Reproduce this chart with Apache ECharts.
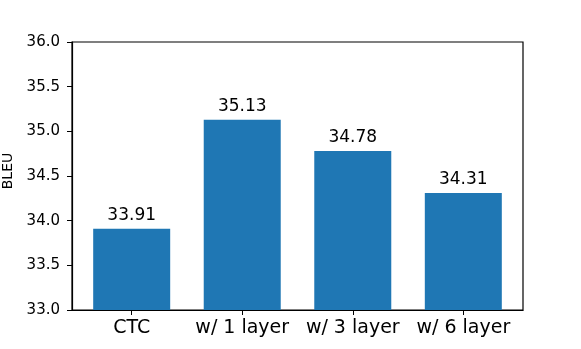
<!DOCTYPE html>
<html>
<head>
<meta charset="utf-8">
<script src="https://cdn.jsdelivr.net/npm/echarts@6/dist/echarts.min.js"></script>
<style>
  html, body { margin: 0; padding: 0; background: #fff; }
  #chart { width: 581px; height: 349px; }
</style>
</head>
<body>
<div id="chart"></div>
<script>
// data
const categories = ["CTC", "w/ 1 layer", "w/ 3 layer", "w/ 6 layer"];
const bleu = [33.91, 35.13, 34.78, 34.31];
const yTicks = [33.0, 33.5, 34.0, 34.5, 35.0, 35.5, 36.0];

const font = "DejaVu Sans";
const positions = categories.map((c, i) => i);

const chart = echarts.init(document.getElementById("chart"));
const option = {
  animation: false,
  textStyle: { fontFamily: font },
  grid: {
    left: 72,
    right: 58,
    top: 42,
    bottom: 39,
    outerBoundsMode: "none",
    containLabel: false,
    show: true,
    borderColor: "#000",
    borderWidth: 1.2,
    backgroundColor: "transparent"
  },
  xAxis: {
    type: "value",
    min: -0.54,
    max: 3.54,
    splitLine: { show: false },
    axisLine: { show: true, onZero: false, lineStyle: { color: "#000", width: 1.2 } },
    axisTick: {
      show: true,
      customValues: positions,
      length: 5,
      lineStyle: { color: "#000", width: 1 }
    },
    axisLabel: {
      customValues: positions,
      formatter: v => categories[Math.round(v)],
      color: "#000",
      fontSize: 19,
      margin: 9,
      fontFamily: font
    }
  },
  yAxis: {
    type: "value",
    min: 33,
    max: 36,
    interval: 0.5,
    name: "BLEU",
    nameLocation: "middle",
    nameGap: 54,
    nameTextStyle: { color: "#000", fontSize: 14, fontFamily: font, padding: [0, 0, 0, 10] },
    splitLine: { show: false },
    axisLine: { show: true, onZero: false, lineStyle: { color: "#000", width: 1.2 } },
    axisTick: { show: true, length: 5, lineStyle: { color: "#000", width: 1 } },
    axisLabel: {
      color: "#000",
      fontSize: 15,
      margin: 12,
      fontFamily: font,
      customValues: yTicks,
      formatter: v => v.toFixed(1)
    }
  },
  series: [
    {
      type: "bar",
      data: bleu.map((v, i) => [positions[i], v]),
      barWidth: 77,
      itemStyle: { color: "#1f77b4" },
      label: {
        show: true,
        position: "top",
        distance: 5,
        color: "#000",
        fontSize: 17,
        fontFamily: font,
        formatter: p => p.value[1].toFixed(2)
      }
    }
  ]
};
chart.setOption(option);
</script>
</body>
</html>
